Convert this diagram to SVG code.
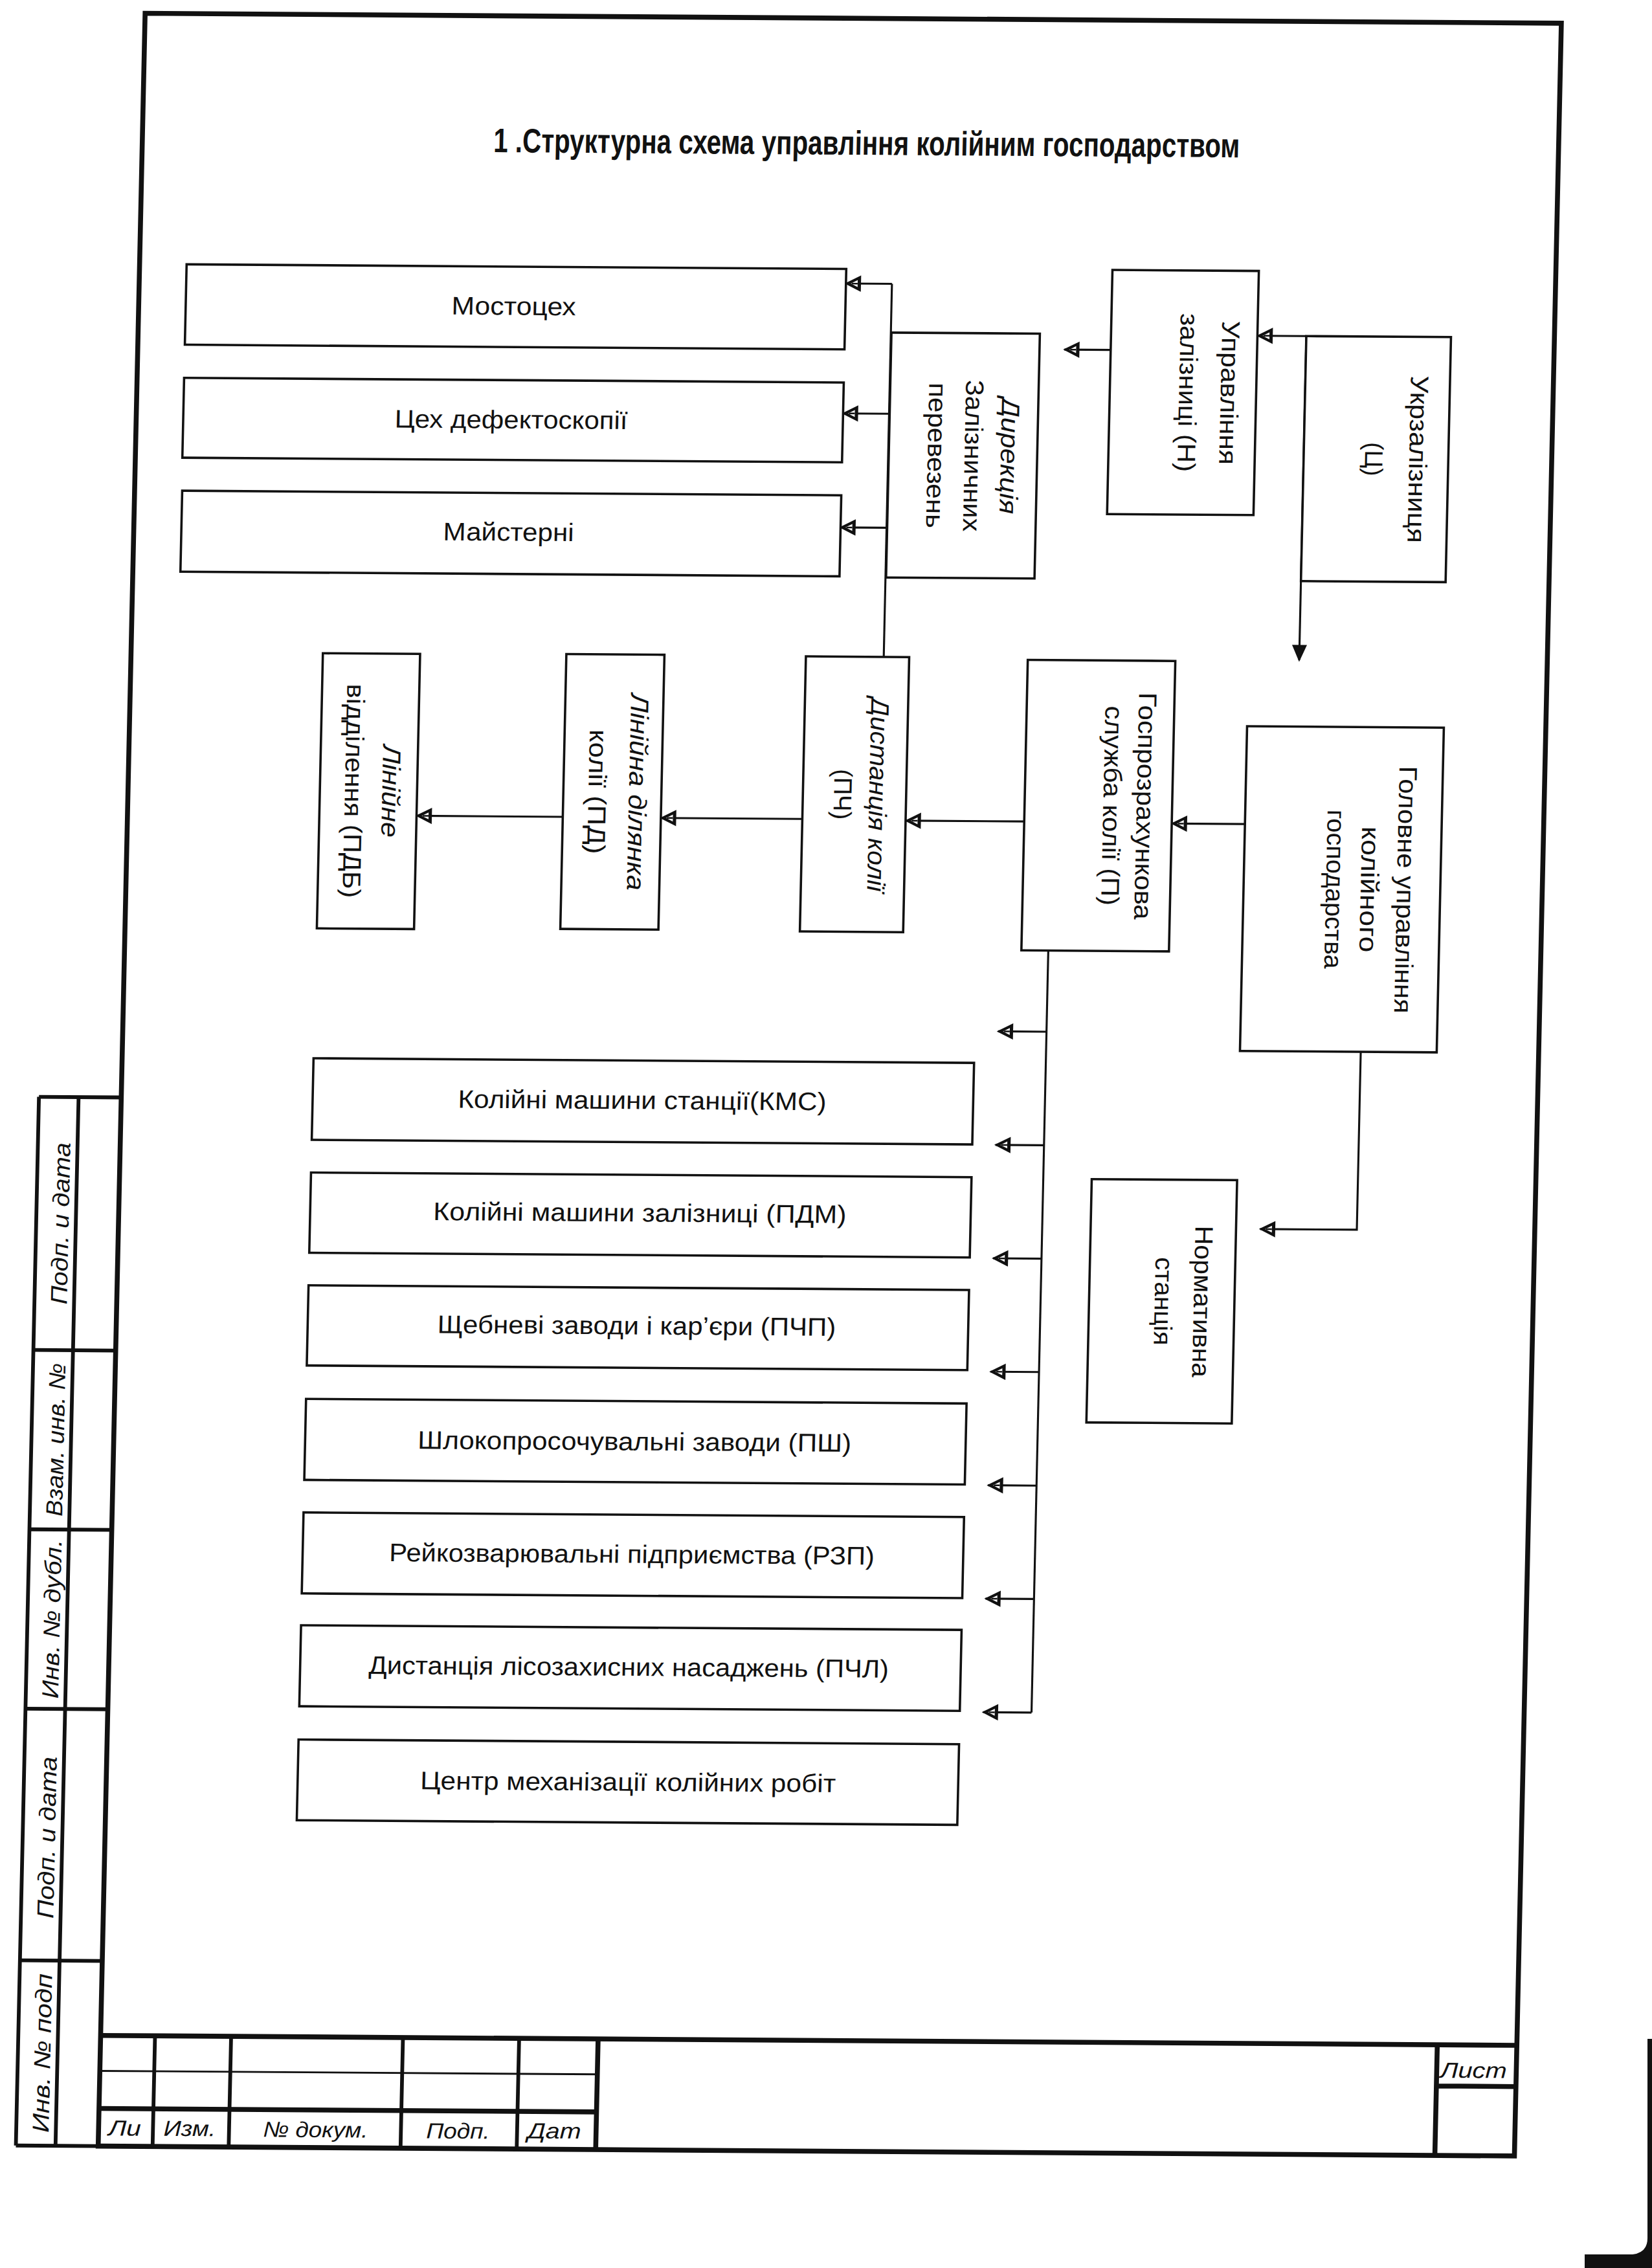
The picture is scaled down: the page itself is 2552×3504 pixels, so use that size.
<svg xmlns="http://www.w3.org/2000/svg" width="2552" height="3504" viewBox="0 0 2552 3504">
<defs>
<style>
.bx{fill:#fff;stroke:#111;stroke-width:1.6}
.cn{fill:none;stroke:#111;stroke-width:1.4}
.fr{fill:none;stroke:#111;stroke-width:3.4}
.md{fill:none;stroke:#111;stroke-width:2.6}
.th{fill:none;stroke:#111;stroke-width:1.3}
.t{font-family:"Liberation Sans",Arial,sans-serif;font-size:17.5px;fill:#111}
.i{font-style:italic}
.s{font-size:16px;font-style:italic}
.tb{font-size:15px;font-style:italic}
.ttl{font-size:23.5px;font-weight:bold}
.arr{marker-end:url(#ah)}
.arf{marker-end:url(#af)}
</style>
<marker id="ah" viewBox="-2 -2 14 14" refX="10" refY="5" markerWidth="14" markerHeight="14" markerUnits="userSpaceOnUse" orient="auto">
<path d="M0,0 L10,5 L0,10 Z" fill="#111" stroke="#111" stroke-width="0.8" stroke-linejoin="miter"/>
<path d="M1.9,2.6 L6.6,5 L1.9,7.4 Z" fill="#fff"/>
<path d="M1.9,5 H6" stroke="#111" stroke-width="1.1"/>
</marker>
<marker id="af" viewBox="-2 -2 14 14" refX="10" refY="5" markerWidth="14" markerHeight="14" markerUnits="userSpaceOnUse" orient="auto">
<path d="M0,0.6 L10,5 L0,9.4 Z" fill="#111" stroke="#111" stroke-width="1"/>
</marker>
</defs>
<rect x="0" y="0" width="2552" height="3504" fill="#fff"/>
<g transform="matrix(2.2347,0.01564,-0.04916,2.2347,0,0)">

<g id="frame">
<rect class="fr" x="100.5" y="8.5" width="979" height="1474.5"/>
</g>

<g id="side-stamp">
<path class="md" d="M43.6,758 V1483 M71,758 V1483"/>
<path class="md" d="M43.6,758 H100.5 M43.6,933 H100.5 M43.6,1057 H100.5 M43.6,1181 H100.5 M43.6,1355 H100.5 M43.6,1483 H100.5"/>
<text class="t s" transform="translate(66,845.5) rotate(-90)" text-anchor="middle" textLength="112" lengthAdjust="spacingAndGlyphs">Подп. и дата</text>
<text class="t s" transform="translate(66,995) rotate(-90)" text-anchor="middle" textLength="106" lengthAdjust="spacingAndGlyphs">Взам. инв. №</text>
<text class="t s" transform="translate(66,1119) rotate(-90)" text-anchor="middle" textLength="110" lengthAdjust="spacingAndGlyphs">Инв. № дубл.</text>
<text class="t s" transform="translate(66,1270) rotate(-90)" text-anchor="middle" textLength="112" lengthAdjust="spacingAndGlyphs">Подп. и дата</text>
<text class="t s" transform="translate(66,1419) rotate(-90)" text-anchor="middle" textLength="110" lengthAdjust="spacingAndGlyphs">Инв. № подп</text>
</g>

<g id="title-block">
<path class="fr" d="M100.5,1406.5 H1079.5"/>
<path class="md" d="M138.1,1406.5 V1483 M190.7,1406.5 V1483 M309.5,1406.5 V1483 M389.8,1406.5 V1483"/>
<path class="fr" d="M444.4,1406.5 V1483 M100.5,1457 H444.4 M1024.5,1406.5 V1483 M1024.5,1435 H1079.5"/>
<path class="th" d="M100.5,1431 H444.4"/>
<text class="t tb" x="118.5" y="1475.6" text-anchor="middle" textLength="22.5" lengthAdjust="spacingAndGlyphs">Ли</text>
<text class="t tb" x="163.5" y="1475.6" text-anchor="middle" textLength="36" lengthAdjust="spacingAndGlyphs">Изм.</text>
<text class="t tb" x="250.5" y="1475.8" text-anchor="middle" textLength="72.5" lengthAdjust="spacingAndGlyphs">№ докум.</text>
<text class="t tb" x="349" y="1476" text-anchor="middle" textLength="44" lengthAdjust="spacingAndGlyphs">Подп.</text>
<text class="t tb" x="415.5" y="1475.5" text-anchor="middle" textLength="37" lengthAdjust="spacingAndGlyphs">Дат</text>
<text class="t tb" x="1050" y="1429.2" text-anchor="middle" textLength="46" lengthAdjust="spacingAndGlyphs">Лист</text>
</g>

<g id="n-title">
<text class="t ttl" x="601.2" y="102.8" text-anchor="middle" textLength="516" lengthAdjust="spacingAndGlyphs">1 .Структурна схема управління колійним господарством</text>
</g>

<g id="connectors">
<path class="cn" d="M620.8,449.8 V191.9"/>
<path class="cn arr" d="M620.8,191.9 H589"/>
<path class="cn arr" d="M620.8,281.7 H589"/>
<path class="cn arr" d="M620.8,360.5 H589"/>
<path class="cn arr" d="M908,226 H874.4"/>
<path class="cn arf" d="M908,226 V450"/>
<path class="cn arr" d="M773,236.5 H741"/>
<path class="cn arr" d="M873,563.6 H822.6"/>
<path class="cn arr" d="M720.4,562.9 H638.6"/>
<path class="cn arr" d="M567,562.2 H469.4"/>
<path class="cn arr" d="M401.4,561.9 H300.5"/>
<path class="cn" d="M739,652 V1178.8"/>
<path class="cn arr" d="M739,708.1 H705.5"/>
<path class="cn arr" d="M739,786.6 H705.5"/>
<path class="cn arr" d="M739,865 H705.5"/>
<path class="cn arr" d="M739,943.4 H705.5"/>
<path class="cn arr" d="M739,1021.9 H705.5"/>
<path class="cn arr" d="M739,1100.3 H705.5"/>
<path class="cn arr" d="M739,1178.8 H705.5"/>
<path class="cn arr" d="M956.5,720.5 V843.5 H889.7"/>
</g>

<g id="n-mostotsekh">
<rect class="bx" x="133" y="181.8" width="456" height="55.6"/>
<text class="t" x="359.7" y="215.2" text-anchor="middle" textLength="86" lengthAdjust="spacingAndGlyphs">Мостоцех</text>
</g>
<g id="n-tsekh">
<rect class="bx" x="133" y="260.3" width="456" height="55.2"/>
<text class="t" x="359.7" y="293.6" text-anchor="middle" textLength="161" lengthAdjust="spacingAndGlyphs">Цех дефектоскопії</text>
</g>
<g id="n-maisterni">
<rect class="bx" x="133.4" y="338.3" width="455.6" height="56"/>
<text class="t" x="359.6" y="371.3" text-anchor="middle" textLength="90.4" lengthAdjust="spacingAndGlyphs">Майстерні</text>
</g>

<g id="n-dyrektsiia">
<rect class="bx" x="621.2" y="225.6" width="102.6" height="169.3"/>
<text class="t i" transform="translate(698.6,310.3) rotate(90)" text-anchor="middle" textLength="80.5" lengthAdjust="spacingAndGlyphs">Дирекція</text>
<text class="t" transform="translate(673.6,310.3) rotate(90)" text-anchor="middle" textLength="104.8" lengthAdjust="spacingAndGlyphs">Залізничних</text>
<text class="t" transform="translate(648.1,310.3) rotate(90)" text-anchor="middle" textLength="100.5" lengthAdjust="spacingAndGlyphs">перевезень</text>
</g>

<g id="n-upravlinnia">
<rect class="bx" x="773" y="181.2" width="101.2" height="168.8"/>
<text class="t" transform="translate(849.7,265.6) rotate(90)" text-anchor="middle" textLength="99.5" lengthAdjust="spacingAndGlyphs">Управління</text>
<text class="t" transform="translate(820.9,265.6) rotate(90)" text-anchor="middle" textLength="109.6" lengthAdjust="spacingAndGlyphs">залізниці (Н)</text>
</g>

<g id="n-ukrzaliznytsia">
<rect class="bx" x="908" y="226" width="100" height="169.4"/>
<text class="t" transform="translate(981,310.7) rotate(90)" text-anchor="middle" textLength="115.5" lengthAdjust="spacingAndGlyphs">Укрзалізниця</text>
<text class="t" transform="translate(950.5,310.7) rotate(90)" text-anchor="middle" textLength="23.5" lengthAdjust="spacingAndGlyphs">(Ц)</text>
</g>

<g id="n-holovne">
<rect class="bx" x="873" y="496" width="136" height="224.5"/>
<text class="t" transform="translate(979,608.2) rotate(90)" text-anchor="middle" textLength="171" lengthAdjust="spacingAndGlyphs">Головне управління</text>
<text class="t" transform="translate(954,608.2) rotate(90)" text-anchor="middle" textLength="87" lengthAdjust="spacingAndGlyphs">колійного</text>
<text class="t" transform="translate(930,608.2) rotate(90)" text-anchor="middle" textLength="110" lengthAdjust="spacingAndGlyphs">господарства</text>
</g>

<g id="n-hosprozrakh">
<rect class="bx" x="720.4" y="451.2" width="102" height="200.8"/>
<text class="t" transform="translate(797.9,551.6) rotate(90)" text-anchor="middle" textLength="157" lengthAdjust="spacingAndGlyphs">Госпрозрахункова</text>
<text class="t" transform="translate(774.8,551.6) rotate(90)" text-anchor="middle" textLength="138" lengthAdjust="spacingAndGlyphs">служба колії (П)</text>
</g>

<g id="n-pch">
<rect class="bx" x="567" y="449.8" width="71.4" height="190.2"/>
<text class="t i" transform="translate(612.9,545) rotate(90)" text-anchor="middle" textLength="134" lengthAdjust="spacingAndGlyphs">Дистанція колії</text>
<text class="t" transform="translate(588.5,545) rotate(90)" text-anchor="middle" textLength="35" lengthAdjust="spacingAndGlyphs">(ПЧ)</text>
</g>

<g id="n-pd">
<rect class="bx" x="401.4" y="449.4" width="67.8" height="190"/>
<text class="t i" transform="translate(446.8,544.4) rotate(90)" text-anchor="middle" textLength="136" lengthAdjust="spacingAndGlyphs">Лінійна ділянка</text>
<text class="t" transform="translate(418.8,544.4) rotate(90)" text-anchor="middle" textLength="86" lengthAdjust="spacingAndGlyphs">колії (ПД)</text>
</g>

<g id="n-pdb">
<rect class="bx" x="233.1" y="450" width="67.2" height="190.2"/>
<text class="t i" transform="translate(276.2,545) rotate(90)" text-anchor="middle" textLength="64" lengthAdjust="spacingAndGlyphs">Лінійне</text>
<text class="t" transform="translate(250.4,545) rotate(90)" text-anchor="middle" textLength="148" lengthAdjust="spacingAndGlyphs">відділення (ПДБ)</text>
</g>

<g id="n-normatyvna">
<rect class="bx" x="772.5" y="809.8" width="100.5" height="168.2"/>
<text class="t" transform="translate(844.9,893.9) rotate(90)" text-anchor="middle" textLength="104.8" lengthAdjust="spacingAndGlyphs">Нормативна</text>
<text class="t" transform="translate(817.9,893.9) rotate(90)" text-anchor="middle" textLength="61" lengthAdjust="spacingAndGlyphs">станція</text>
</g>

<g id="n-kms">
<rect class="bx" x="232.8" y="730" width="456.6" height="56.4"/>
<text class="t" x="460.6" y="763.5" text-anchor="middle" textLength="254.7" lengthAdjust="spacingAndGlyphs">Колійні машини станції(КМС)</text>
</g>
<g id="n-pdm">
<rect class="bx" x="232.8" y="809" width="456.6" height="55.5"/>
<text class="t" x="460.7" y="841.3" text-anchor="middle" textLength="285.6" lengthAdjust="spacingAndGlyphs">Колійні машини залізниці (ПДМ)</text>
</g>
<g id="n-pchp">
<rect class="bx" x="232.8" y="887" width="456.6" height="55.4"/>
<text class="t" x="460.2" y="919.3" text-anchor="middle" textLength="275.4" lengthAdjust="spacingAndGlyphs">Щебневі заводи і кар’єри (ПЧП)</text>
</g>
<g id="n-psh">
<rect class="bx" x="232.8" y="965.5" width="456.6" height="56"/>
<text class="t" x="460.5" y="999.4" text-anchor="middle" textLength="299.7" lengthAdjust="spacingAndGlyphs">Шлокопросочувальні заводи (ПШ)</text>
</g>
<g id="n-rzp">
<rect class="bx" x="232.8" y="1044" width="456.6" height="56"/>
<text class="t" x="460.4" y="1077.3" text-anchor="middle" textLength="335.4" lengthAdjust="spacingAndGlyphs">Рейкозварювальні підприємства (РЗП)</text>
</g>
<g id="n-pchl">
<rect class="bx" x="232.8" y="1122" width="456.6" height="56"/>
<text class="t" x="459.9" y="1155.3" text-anchor="middle" textLength="359.6" lengthAdjust="spacingAndGlyphs">Дистанція лісозахисних насаджень (ПЧЛ)</text>
</g>
<g id="n-tsentr">
<rect class="bx" x="232.8" y="1201" width="456.6" height="55.8"/>
<text class="t" x="461.2" y="1234.8" text-anchor="middle" textLength="287.2" lengthAdjust="spacingAndGlyphs">Центр механізації колійних робіт</text>
</g>

</g>
<path d="M2545,3150 H2552 V3504 H2448 V3483 H2522 Q2545,3480 2545,3458 Z" fill="#111"/>
</svg>
